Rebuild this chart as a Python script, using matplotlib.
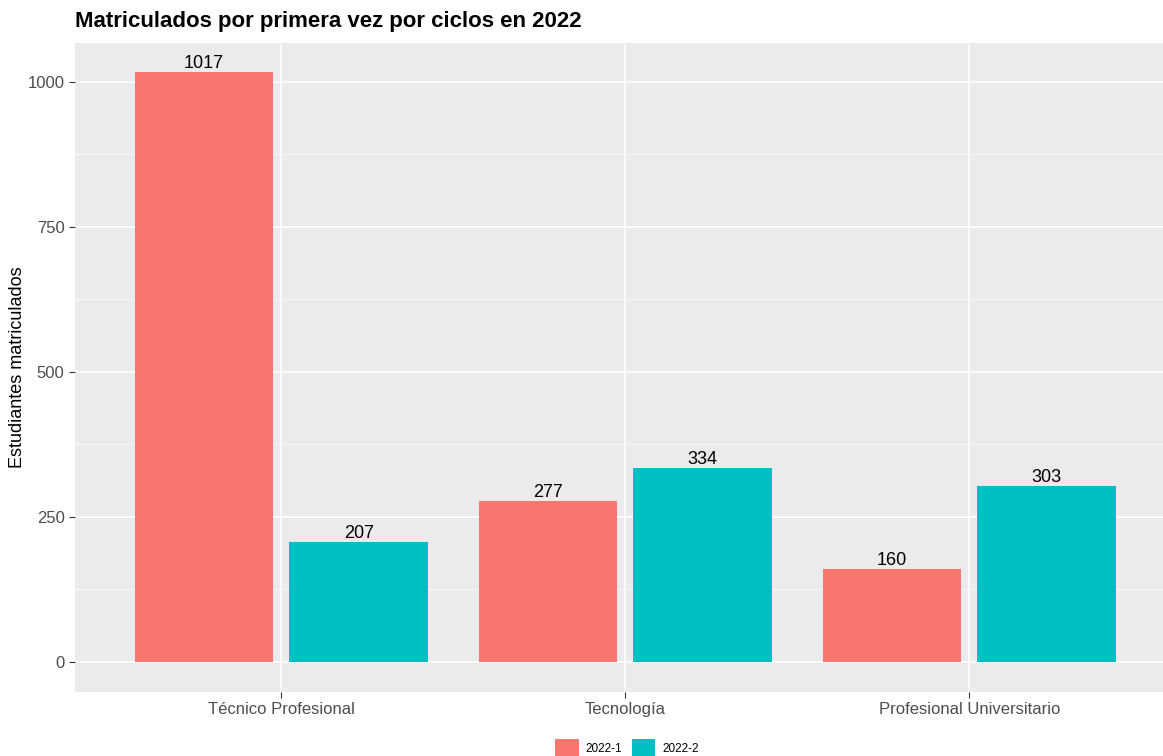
import matplotlib
matplotlib.use("Agg")
import matplotlib.pyplot as plt
import numpy as np
from matplotlib.patches import Patch

plt.rcParams["font.family"] = ["Liberation Sans", "DejaVu Sans"]

categories = ["Técnico Profesional", "Tecnología", "Profesional Universitario"]
series_names = ["2022-1", "2022-2"]
values_2022_1 = [1017, 277, 160]
values_2022_2 = [207, 334, 303]
colors = ["#F8766D", "#00BFC4"]

W, H = 1163, 756
fig = plt.figure(figsize=(W / 100, H / 100), dpi=100)
ax = fig.add_axes([75 / W, 1 - 691.5 / H, (1163 - 75) / W, (691.5 - 42.6) / H])
ax.set_facecolor("#EBEBEB")
for s in ax.spines.values():
    s.set_visible(False)

x = np.arange(1, len(categories) + 1)
bw = 0.404
off = 0.225
ax.bar(x - off, values_2022_1, width=bw, color=colors[0], zorder=3)
ax.bar(x + off, values_2022_2, width=bw, color=colors[1], zorder=3)
for xi, v in zip(x - off, values_2022_1):
    ax.text(xi, v, str(v), ha="center", va="bottom", fontsize=13, color="black", zorder=4)
for xi, v in zip(x + off, values_2022_2):
    ax.text(xi, v, str(v), ha="center", va="bottom", fontsize=13, color="black", zorder=4)

ax.set_xlim(0.4, 0.4 + 1088 / 344)
ax.set_ylim(-50.85, 1067.85)
ax.set_yticks([0, 250, 500, 750, 1000])
ax.set_yticks([125, 375, 625, 875], minor=True)
ax.set_xticks(x)
ax.set_xticklabels(categories)
ax.grid(True, which="major", color="white", linewidth=1.1, zorder=0)
ax.grid(True, which="minor", axis="y", color="white", linewidth=0.5, zorder=0)
ax.set_axisbelow(True)
ax.tick_params(axis="both", which="major", colors="#333333", labelcolor="#4D4D4D",
               labelsize=12, length=4, width=0.8)
ax.tick_params(axis="y", which="minor", length=0)

fig.text(18 / W, 1 - 367 / H, "Estudiantes matriculados", fontsize=13,
         rotation=90, ha="center", va="center")
fig.text(75 / W, 1 - 22 / H, "Matriculados por primera vez por ciclos en 2022",
         fontsize=16, fontweight="bold", va="center", ha="left")

handles = [Patch(facecolor=c, edgecolor="none", label=n) for c, n in zip(colors, series_names)]
fig.legend(handles=handles, loc="center", bbox_to_anchor=(627 / W, 1 - 748 / H), ncol=2,
           frameon=False, fontsize=8.5, handlelength=2.0, handleheight=2.0,
           columnspacing=0.8, handletextpad=0.6)

fig.savefig("out.png", dpi=100)
